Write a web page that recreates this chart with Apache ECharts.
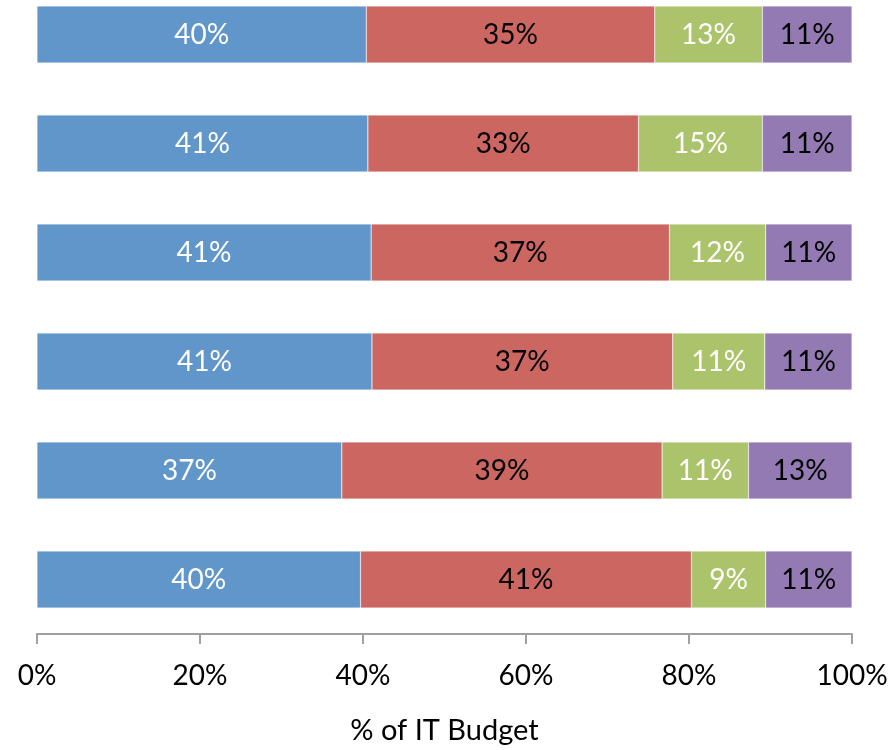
<!DOCTYPE html>
<html>
<head>
<meta charset="utf-8">
<script src="https://cdn.jsdelivr.net/npm/echarts@6/dist/echarts.min.js"></script>
<style>
  html, body { margin: 0; padding: 0; background: #fff; overflow: hidden; }
  /* first row's band starts above the visible area, so shift the canvas up */
  #chart { width: 894px; height: 770px; margin-top: -20px; }
</style>
</head>
<body>
<div id="chart"></div>
<script>
// rows top to bottom (no visible category labels)
const categories = ['1', '2', '3', '4', '5', '6']
const blueVals = [40.4, 40.6, 41.0, 41.1, 37.4, 39.7]
const redVals = [35.4, 33.2, 36.6, 36.9, 39.3, 40.6]
const greenVals = [13.2, 15.2, 11.8, 11.3, 10.6, 9.1]
const purpleVals = [11.0, 11.0, 10.6, 10.7, 12.7, 10.6]
const xTicks = [0, 20, 40, 60, 80, 100]

const fontFamily = 'Lato, "Open Sans", sans-serif'

function seg(name, data, color, textColor) {
  return {
    name: name,
    type: 'bar',
    stack: 'budget',
    barWidth: 57,
    data: data,
    itemStyle: { color: color, borderColor: 'rgba(255,255,255,0.6)', borderWidth: 0.5 },
    label: {
      show: true,
      position: 'inside',
      color: textColor,
      fontFamily: fontFamily,
      fontSize: 28,
      formatter: p => Math.round(p.value) + '%'
    },
    animation: false
  }
}

const chart = echarts.init(document.getElementById('chart'))
chart.setOption({
  grid: { left: 37, right: 42, top: 0, bottom: 107, containLabel: false },
  xAxis: {
    type: 'value',
    min: xTicks[0],
    max: xTicks[xTicks.length - 1],
    interval: 20,
    name: '% of IT Budget',
    nameLocation: 'middle',
    nameGap: 82,
    nameTextStyle: { color: '#000', fontFamily: fontFamily, fontSize: 29 },
    axisLine: { show: true, lineStyle: { color: '#a0a0a0', width: 2 } },
    axisTick: { show: true, length: 10, lineStyle: { color: '#a0a0a0', width: 2 } },
    axisLabel: {
      color: '#000',
      fontFamily: fontFamily,
      fontSize: 28,
      margin: 28,
      formatter: v => v + '%'
    },
    splitLine: { show: false }
  },
  yAxis: {
    type: 'category',
    data: categories,
    inverse: true,
    show: false
  },
  series: [
    seg('A', blueVals, '#6096c9', '#fff'),
    seg('B', redVals, '#cc6660', '#000'),
    seg('C', greenVals, '#abc46c', '#fff'),
    seg('D', purpleVals, '#937ab2', '#000')
  ]
})
</script>
</body>
</html>
